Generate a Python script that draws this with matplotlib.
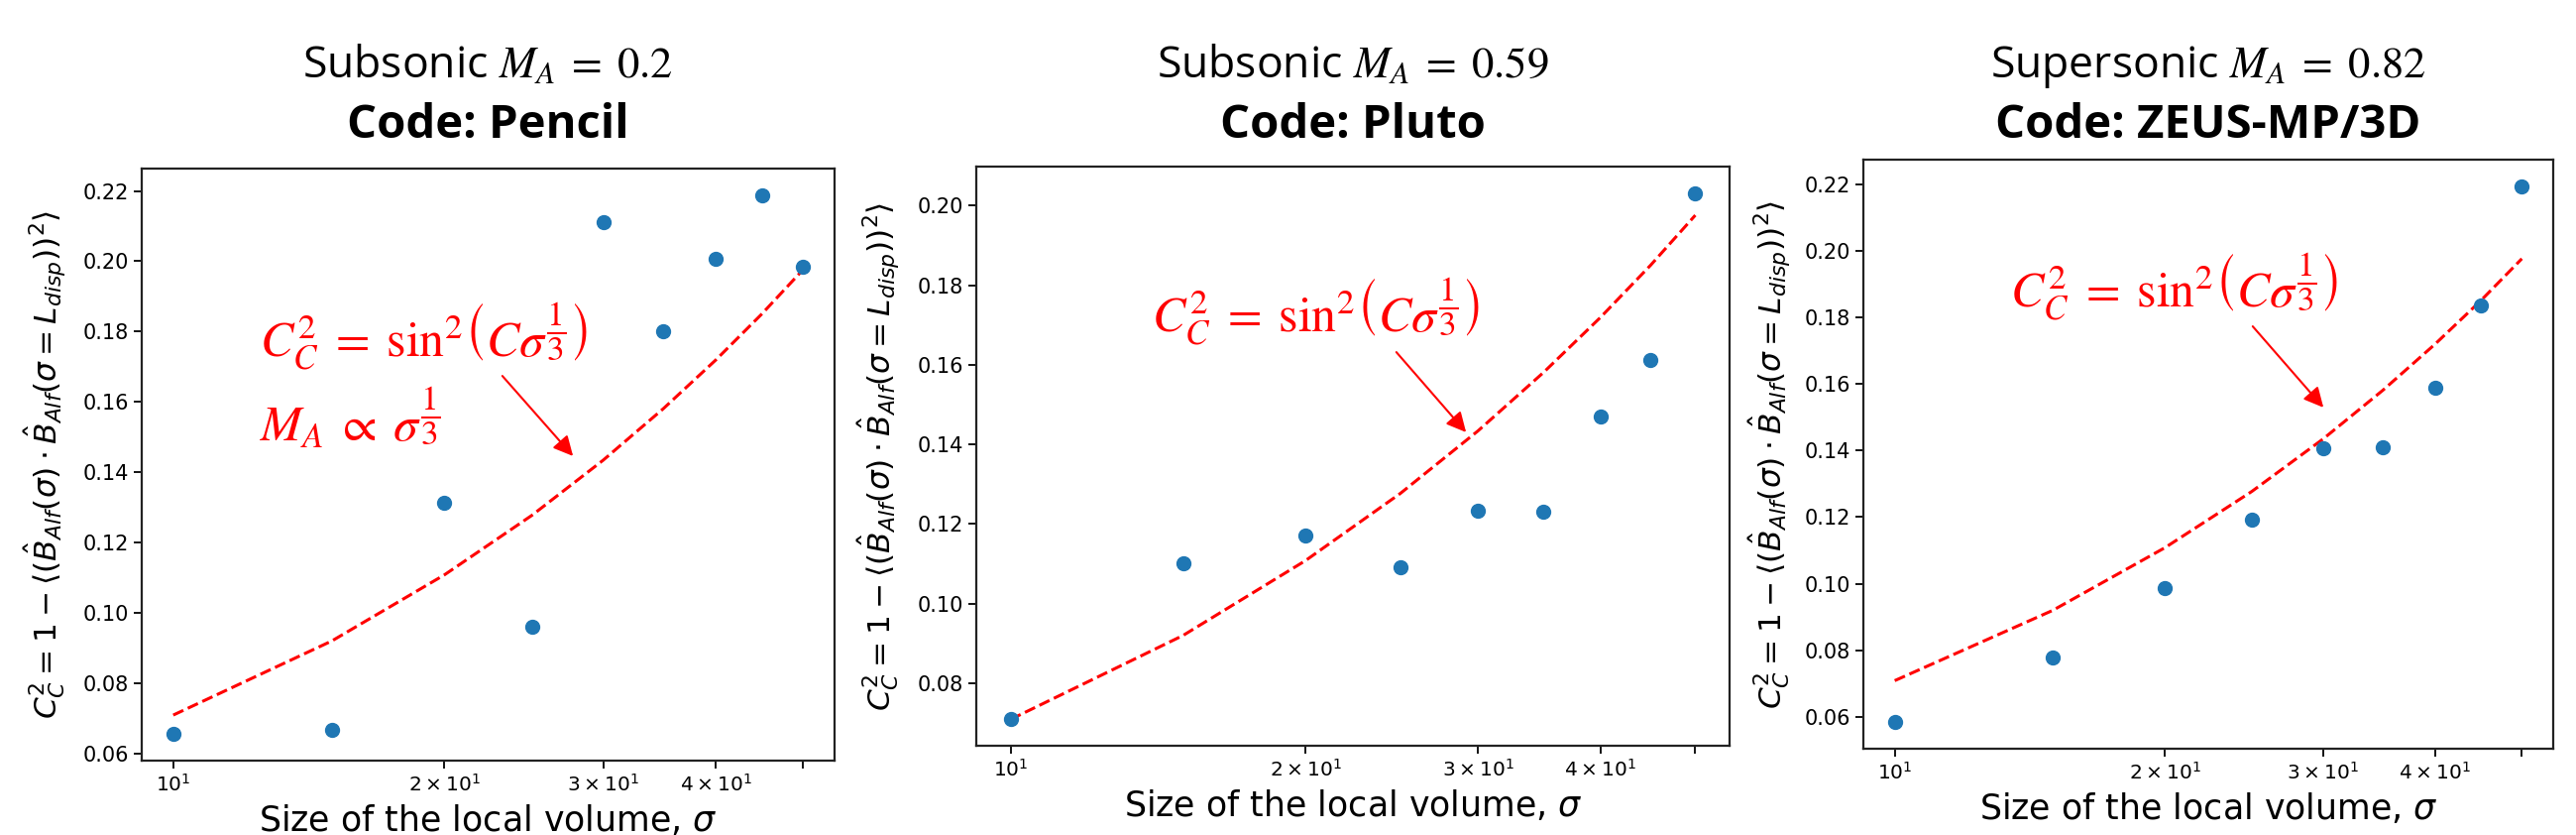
import numpy as np
import matplotlib
matplotlib.use("Agg")
import matplotlib.pyplot as plt

# local volume sizes (same for every panel)
sigma = [10, 15, 20, 25, 30, 35, 40, 45, 50]

# measured C_C^2 per code
cc_pencil = [0.0656, 0.0667, 0.1313, 0.0961, 0.2111, 0.1801, 0.2006, 0.2187, 0.1984]
cc_pluto = [0.0710, 0.1101, 0.1171, 0.1092, 0.1234, 0.1230, 0.1470, 0.1611, 0.2032]
cc_zeus = [0.0585, 0.0779, 0.0988, 0.1193, 0.1408, 0.1411, 0.1590, 0.1835, 0.2193]

# red dashed model curve
cc_model = [0.0709, 0.0920, 0.1108, 0.1277, 0.1434, 0.1581, 0.1719, 0.1850, 0.1976]

titles = [r"Subsonic $M_A\;=\;0.2$", r"Subsonic $M_A\;=\;0.59$", r"Supersonic $M_A\;=\;0.82$"]
codes = ["Code: Pencil", "Code: Pluto", "Code: ZEUS-MP/3D"]

W, H = 2599, 842
fig = plt.figure(figsize=(W / 100, H / 100), dpi=100)


def px_axes(l, t, r, b):
    return fig.add_axes([l / W, 1 - b / H, (r - l) / W, (b - t) / H])


boxes = [(143, 170, 842, 767), (985, 168, 1745, 752), (1880, 161, 2576, 755)]
ylab_x = [-0.106, -0.099, -0.102]
data = [cc_pencil, cc_pluto, cc_zeus]
formula = r"$C_C^2\;=\;\sin^2\!\left(C\sigma^{\dfrac{1}{3}}\right)$"

for i, (box, cc) in enumerate(zip(boxes, data)):
    ax = px_axes(*box)
    ax.scatter(sigma, cc, s=100, color="#1f77b4", zorder=3)
    ax.plot(sigma, cc_model, "--", color="red", lw=2.2)
    ax.set_xscale("log")
    for sp in ax.spines.values():
        sp.set_linewidth(1.6)
        sp.set_color("#222222")
    ax.tick_params(axis="both", which="both", length=6, width=1.3)
    ax.tick_params(axis="y", labelsize=15)
    ax.tick_params(axis="x", which="both", labelsize=14.5)
    ax.set_xlabel(r"Size of the local volume, $\sigma$", fontsize=25)
    ax.set_ylabel(r"$C_C^2 = 1 - \langle(\hat{B}_{Alf}(\sigma)\cdot \hat{B}"
                  r"_{Alf}(\sigma = L_{disp}))^2\rangle$", fontsize=22.5)
    ax.yaxis.set_label_coords(ylab_x[i], 0.5)
    ax.xaxis.labelpad = 6

    cx = (box[0] + box[2]) / 2
    fig.text(cx / W, 1 - 78 / H, titles[i], ha="center", va="baseline",
             fontsize=32, family="Open Sans", math_fontfamily="stix")
    fig.text(cx / W, 1 - 139 / H, codes[i], ha="center", va="baseline",
             fontsize=34, family="Open Sans", weight="bold")

    if i == 0:
        formula_xy, tip, tail = (262, 360), (580, 462), (505, 377)
    elif i == 1:
        formula_xy, tip, tail = (1162, 335), (1481, 438), (1407, 353)
    else:
        formula_xy, tip, tail = (2028, 310), (2346, 413), (2271, 327)

    fig.text(formula_xy[0] / W, 1 - formula_xy[1] / H, formula,
             color="red", fontsize=36, math_fontfamily="stix", va="baseline")
    if i == 0:
        fig.text(262 / W, 1 - 445 / H, r"$M_A \;\propto\; \sigma^{\dfrac{1}{3}}$",
                 color="red", fontsize=36, math_fontfamily="stix", va="baseline")
    fig.add_artist(matplotlib.patches.FancyArrowPatch(
        (tail[0] / W, 1 - tail[1] / H), (tip[0] / W, 1 - tip[1] / H),
        transform=fig.transFigure, arrowstyle="-|>", mutation_scale=30,
        color="red", lw=1.5))

fig.savefig("out.png", dpi=100)
